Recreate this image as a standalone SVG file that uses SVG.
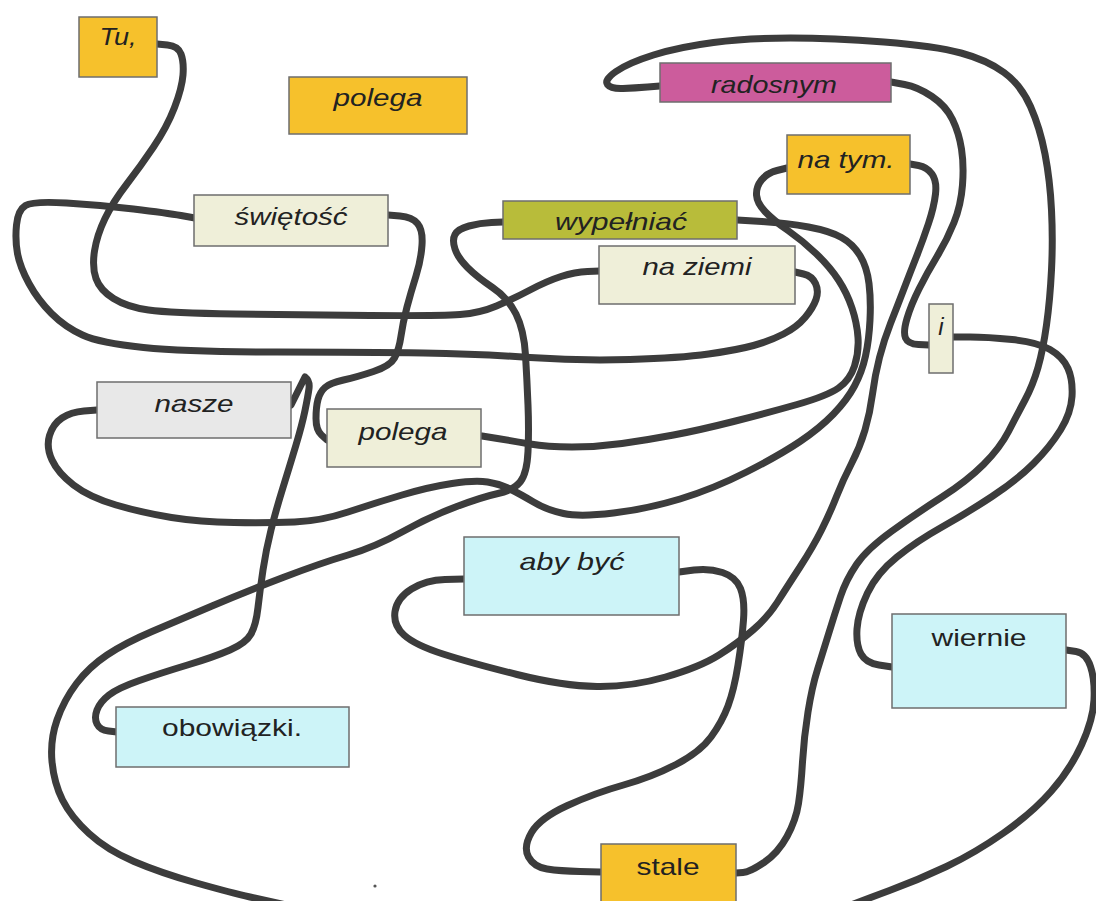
<svg xmlns="http://www.w3.org/2000/svg" width="1096" height="901" viewBox="0 0 1096 901">
<style>
.box{stroke:#6e6e6e;stroke-width:1.5}
.or{fill:#F6C12C}
.mg{fill:#CC5C9C}
.ol{fill:#B8BC3A}
.bg{fill:#EFEFD9}
.gy{fill:#E8E8E8}
.cy{fill:#CDF4F8}
.t{font-family:"Liberation Sans",Arial,sans-serif;font-size:24px;fill:#222;text-anchor:middle}
.it{font-style:italic}
.ln{fill:none;stroke:#3c3c3c;stroke-width:7;stroke-linecap:round;stroke-linejoin:round}
</style>
<rect width="1096" height="901" fill="#ffffff"/>
<g id="connectors">
<path class="ln" d="M157,44 L167.5,45 Q178,46 181,54 Q184,62 183,75 Q182,88 174.5,107.5 Q167,127 153.5,147 Q140,167 126.5,184.5 Q113,202 105,218.5 Q97,235 94.5,251 Q92,267 96,278.5 Q100,290 113.5,298.5 Q127,307 148.5,310 Q170,313 235,314 Q300,315 370,315.5 Q440,316 460,314.5 Q480,313 496.5,306 Q513,299 530,290 Q547,281 561,276.5 Q575,272 587.5,271.5 L600,271"/>
<path class="ln" d="M795,272 L803.5,274 Q812,276 815.5,283.5 Q819,291 816,299.5 Q813,308 805,317.5 Q797,327 783.5,334 Q770,341 753.5,345.5 Q737,350 708.5,354 Q680,358 630,359.5 Q580,361 530,357.5 Q480,354 423.5,353 Q367,352 277,352 Q187,352 143.5,347.5 Q100,343 82.5,335 Q65,327 51.5,313.5 Q38,300 29,283.5 Q20,267 17.5,253.5 Q15,240 16.5,225 Q18,210 25.5,205.5 Q33,201 66.5,203 Q100,205 133.5,209 Q167,213 181,215.5 L195,218"/>
<path class="ln" d="M388,215 L400,216 Q412,217 417.5,223.5 Q423,230 422,245 Q421,260 416,276 Q411,292 407,307 Q403,322 401,336 Q399,350 394.5,358 Q390,366 373.5,371.5 Q357,377 343.5,380 Q330,383 325,387.5 Q320,392 318,399.5 Q316,407 316,418.5 Q316,430 321.5,435 L327,440"/>
<path class="ln" d="M291,405 L305,377 Q310,381 309,388.5 Q308,396 305,410.5 Q302,425 296,445 Q290,465 283,487.5 Q276,510 271,530 Q266,550 263,570 Q260,590 258,607.5 Q256,625 251,634 Q246,643 230,650 Q214,657 187.5,665 Q161,673 139.5,680.5 Q118,688 109,695 Q100,702 97,710 Q94,718 97,724 Q100,730 108.5,731 L117,732"/>
<path class="ln" d="M787,168 L777,170.5 Q767,173 761.5,180 Q756,187 756.5,195 Q757,203 765,211.5 Q773,220 788,230.5 Q803,241 816.5,254 Q830,267 838.5,280 Q847,293 852,308 Q857,323 858,337.5 Q859,352 854.5,366 Q850,380 838.5,388 Q827,396 797,404.5 Q767,413 733.5,421.5 Q700,430 673.5,435 Q647,440 622,443.5 Q597,447 572,447 Q547,447 530,444 Q513,441 497.5,438.5 L482,436"/>
<path class="ln" d="M737,220 L762,221.5 Q787,223 808.5,227 Q830,231 841.5,237.5 Q853,244 860,255.5 Q867,267 869,283.5 Q871,300 870,320 Q869,340 865.5,356 Q862,372 854.5,386 Q847,400 833.5,414 Q820,428 800,441.5 Q780,455 746.5,472 Q713,489 680,499 Q647,509 613.5,513 Q580,517 563.5,513.5 Q547,510 533.5,502 Q520,494 510,489 Q500,484 487.5,482 Q475,480 452,483.5 Q429,487 402,495 Q375,503 348,512 Q321,521 294.5,522 Q268,523 234,522.5 Q200,522 171.5,517.5 Q143,513 116,505 Q89,497 73.5,485 Q58,473 52,460 Q46,447 49.5,435.5 Q53,424 62,418 Q71,412 84,411 L97,410"/>
<path class="ln" d="M910,164 L918.5,165.5 Q927,167 932,174 Q937,181 935.5,194 Q934,207 928.5,223.5 Q923,240 916.5,256.5 Q910,273 903.5,290 Q897,307 890.5,323.5 Q884,340 879.5,357.5 Q875,375 872.5,394 Q870,413 865,430 Q860,447 851.5,463.5 Q843,480 836.5,496.5 Q830,513 821.5,530 Q813,547 800,567 Q787,587 777.5,602 Q768,617 753,630 Q738,643 719,655 Q700,667 665.5,677 Q631,687 597,686.5 Q563,686 517,674.5 Q471,663 443,654 Q415,645 404,635 Q393,625 395,611.5 Q397,598 411.5,589 Q426,580 445,579.5 L464,579"/>
<path class="ln" d="M679,572 L694,570 Q709,568 722.5,572.5 Q736,577 740.5,588.5 Q745,600 743.5,620 Q742,640 738,665 Q734,690 728,706 Q722,722 711,737 Q700,752 676,764.5 Q652,777 623.5,785 Q595,793 567.5,805.5 Q540,818 531.5,832.5 Q523,847 528.5,857 Q534,867 547,869 Q560,871 580,871.5 L600,872"/>
<path class="ln" d="M736,873 L743,872.5 Q750,872 764,862.5 Q778,853 787,836.5 Q796,820 798.5,803.5 Q801,787 802.5,762 Q804,737 808,712 Q812,687 817.5,669.5 Q823,652 829,632.5 Q835,613 840.5,596.5 Q846,580 856.5,564.5 Q867,549 892,531 Q917,513 942,497 Q967,481 983.5,464.5 Q1000,448 1008.5,431.5 Q1017,415 1025,400 Q1033,385 1038,367.5 Q1043,350 1046.5,325 Q1050,300 1051.5,270 Q1053,240 1051.5,210 Q1050,180 1045,154 Q1040,128 1030.5,106.5 Q1021,85 1004,72.5 Q987,60 961,53 Q935,46 884,42 Q833,38 790.5,38 Q748,38 713.5,42.5 Q679,47 653.5,55 Q628,63 616,71.5 Q604,80 607.5,84.5 Q611,89 623,88.5 Q635,88 647.5,87 L660,86"/>
<path class="ln" d="M891,82 L904.5,84.5 Q918,87 932,96.5 Q946,106 952.5,119.5 Q959,133 961.5,149 Q964,165 962.5,185 Q961,205 954,222.5 Q947,240 937,256.5 Q927,273 919,289 Q911,305 907,318.5 Q903,332 905.5,338 Q908,344 918.5,344.5 L929,345"/>
<path class="ln" d="M953,337 L970,337 Q987,337 1012,339.5 Q1037,342 1050,349.5 Q1063,357 1068,368.5 Q1073,380 1072,396.5 Q1071,413 1060.5,430 Q1050,447 1033.5,463.5 Q1017,480 992,496.5 Q967,513 942,527 Q917,541 897,557 Q877,573 867.5,593 Q858,613 857,629 Q856,645 861,654 Q866,663 879,665 L892,667"/>
<path class="ln" d="M1066,650 L1076,651.5 Q1086,653 1090.5,666.5 Q1095,680 1094,700 Q1093,720 1081.5,745 Q1070,770 1051,791.5 Q1032,813 1003.5,833 Q975,853 946.5,866.5 Q918,880 889.5,890.5 Q861,901 830.5,913 Q800,925 700,932.5 Q600,940 500,935 Q400,930 334,915.5 Q268,901 250,897 Q232,893 196.5,883 Q161,873 134,861.5 Q107,850 89,833.5 Q71,817 62.5,800 Q54,783 52,761.5 Q50,740 57,720 Q64,700 76.5,683.5 Q89,667 107,655 Q125,643 152,631.5 Q179,620 212,606 Q245,592 283,577.5 Q321,563 348,555 Q375,547 402,532 Q429,517 455.5,507 Q482,497 498,493.5 Q514,490 520.5,481.5 Q527,473 528,451.5 Q529,430 528,405 Q527,380 525.5,355 Q524,330 516,314 Q508,298 492.5,287.5 Q477,277 467.5,267.5 Q458,258 455,249 Q452,240 455,234.5 Q458,229 469,226 Q480,223 491.5,222.5 L503,222"/>
<circle cx="375" cy="886" r="1.6" fill="#555"/>
</g>
<g id="n-tu"><rect class="box or" x="79" y="17" width="78" height="60"/><text class="t it" x="118" y="45" textLength="37" lengthAdjust="spacingAndGlyphs">Tu,</text></g>
<g id="n-polega-top"><rect class="box or" x="289" y="77" width="178" height="57"/><text class="t it" x="378" y="106" textLength="89" lengthAdjust="spacingAndGlyphs">polega</text></g>
<g id="n-swietosc"><rect class="box bg" x="194" y="195" width="194" height="51"/><text class="t it" x="291" y="225" textLength="113" lengthAdjust="spacingAndGlyphs">świętość</text></g>
<g id="n-radosnym"><rect class="box mg" x="660" y="63" width="231" height="39"/><text class="t it" x="774" y="93" textLength="126" lengthAdjust="spacingAndGlyphs">radosnym</text></g>
<g id="n-natym"><rect class="box or" x="787" y="135" width="123" height="59"/><text class="t it" x="846" y="168" textLength="97" lengthAdjust="spacingAndGlyphs">na tym.</text></g>
<g id="n-wypelniac"><rect class="box ol" x="503" y="201" width="234" height="38"/><text class="t it" x="621" y="230" textLength="132" lengthAdjust="spacingAndGlyphs">wypełniać</text></g>
<g id="n-naziemi"><rect class="box bg" x="599" y="246" width="196" height="58"/><text class="t it" x="697" y="275" textLength="109" lengthAdjust="spacingAndGlyphs">na ziemi</text></g>
<g id="n-i"><rect class="box bg" x="929" y="304" width="24" height="69"/><text class="t it" x="941" y="335">i</text></g>
<g id="n-nasze"><rect class="box gy" x="97" y="382" width="194" height="56"/><text class="t it" x="194" y="412" textLength="79" lengthAdjust="spacingAndGlyphs">nasze</text></g>
<g id="n-polega-mid"><rect class="box bg" x="327" y="409" width="154" height="58"/><text class="t it" x="403" y="440" textLength="89" lengthAdjust="spacingAndGlyphs">polega</text></g>
<g id="n-abybyc"><rect class="box cy" x="464" y="537" width="215" height="78"/><text class="t it" x="572" y="570" textLength="105" lengthAdjust="spacingAndGlyphs">aby być</text></g>
<g id="n-wiernie"><rect class="box cy" x="892" y="614" width="174" height="94"/><text class="t" x="979" y="646" textLength="95" lengthAdjust="spacingAndGlyphs">wiernie</text></g>
<g id="n-obowiazki"><rect class="box cy" x="116" y="707" width="233" height="60"/><text class="t" x="232" y="736" textLength="140" lengthAdjust="spacingAndGlyphs">obowiązki.</text></g>
<g id="n-stale"><rect class="box or" x="601" y="844" width="135" height="64"/><text class="t" x="668" y="875" textLength="63" lengthAdjust="spacingAndGlyphs">stale</text></g>
</svg>
